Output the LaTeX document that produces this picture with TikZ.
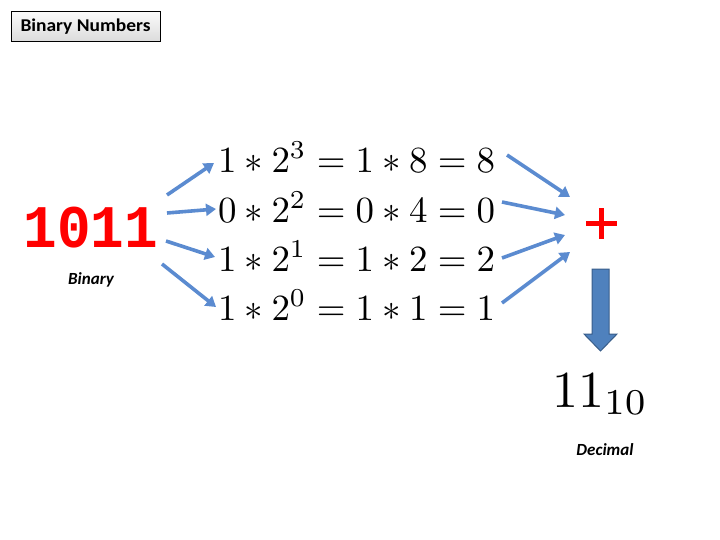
\documentclass[tikz,border=0pt]{standalone}
\usepackage{fontspec}
\setmainfont{Carlito}
\newfontfamily\monofnt{Liberation Mono}
\usetikzlibrary{arrows.meta}
\definecolor{arrblue}{HTML}{5B8BD0}
\definecolor{blkfill}{HTML}{4F81BD}
\definecolor{blkedge}{HTML}{385D8A}
\tikzset{
  conn/.style={draw=arrblue, line width=3.6pt, -{Triangle[length=10pt,width=12pt]}},
  eqrow/.style={anchor=west, inner sep=0pt},
  lbl/.style={font=\bfseries\itshape\fontsize{17}{17}\selectfont, inner sep=0pt}
}
\begin{document}
\begin{tikzpicture}[x=1pt,y=-1pt]
\useasboundingbox (0,0) rectangle (720,540);
% title
\node[draw=black, line width=1pt, top color=gray!4, bottom color=gray!28, minimum width=149pt, minimum height=30pt, inner sep=0pt, font=\bfseries\fontsize{18}{18}\selectfont] (title) at (85.5,27) {\scalebox{1.08}[1]{Binary Numbers}};
% binary number
\node[text=red, inner sep=0pt, font=\monofnt\bfseries\fontsize{56}{56}\selectfont] (bin) at (91,227.5) {\scalebox{1}[1.08]{1011}};
\node[lbl] (binlbl) at (91,280) {Binary};
% equation rows
\node[eqrow] (r1) at (218,157) {\resizebox{277pt}{!}{$1 \ast 2^{3} = 1 \ast 8 = 8$}};
\node[eqrow] (r2) at (218,207) {\resizebox{277pt}{!}{$0 \ast 2^{2} = 0 \ast 4 = 0$}};
\node[eqrow] (r3) at (218,256) {\resizebox{277pt}{!}{$1 \ast 2^{1} = 1 \ast 2 = 2$}};
\node[eqrow] (r4) at (218,305) {\resizebox{277pt}{!}{$1 \ast 2^{0} = 1 \ast 1 = 1$}};
% plus
\node[inner sep=0pt, minimum size=30pt] (plus) at (601.5,223.5) {};
\draw[red, line width=5.5pt] (plus.west) -- (plus.east) (plus.north) -- (plus.south);
% left connectors
\coordinate (a1) at (167,195); \coordinate (b1) at (214,163);
\coordinate (a2) at (167,213); \coordinate (b2) at (216,209);
\coordinate (a3) at (166,241); \coordinate (b3) at (215,257);
\coordinate (a4) at (162,264); \coordinate (b4) at (216,307);
\draw[conn] (a1) -- (b1);
\draw[conn] (a2) -- (b2);
\draw[conn] (a3) -- (b3);
\draw[conn] (a4) -- (b4);
% right connectors
\coordinate (c1) at (507,155); \coordinate (d1) at (570,197);
\coordinate (c2) at (502,202); \coordinate (d2) at (565,215);
\coordinate (c3) at (502,258); \coordinate (d3) at (565,235);
\coordinate (c4) at (502,303); \coordinate (d4) at (570,252);
\draw[conn] (c1) -- (d1);
\draw[conn] (c2) -- (d2);
\draw[conn] (c3) -- (d3);
\draw[conn] (c4) -- (d4);
% block arrow
\draw[blkedge, fill=blkfill, line width=1pt] (592,269) -- (609,269) -- (609,334) -- (617,334) -- (600.5,351) -- (584,334) -- (592,334) -- cycle;
% result
\node[inner sep=0pt, anchor=base west] (res) at (552,407) {\resizebox{96pt}{!}{$11_{10}$}};
\node[lbl] (declbl) at (605,450) {Decimal};
\end{tikzpicture}
\end{document}
